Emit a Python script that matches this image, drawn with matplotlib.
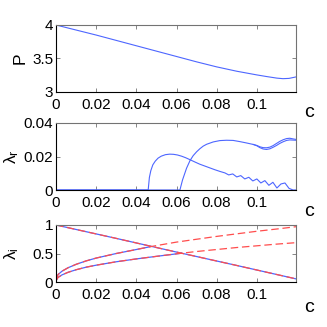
import matplotlib
matplotlib.use('Agg')
import matplotlib.pyplot as plt

plt.rcParams['font.family'] = ['Liberation Sans Narrow', 'Liberation Sans', 'DejaVu Sans']
plt.rcParams['mathtext.fontset'] = 'custom'
plt.rcParams['mathtext.rm'] = 'Liberation Sans'
plt.rcParams['mathtext.it'] = 'Liberation Sans'

# top panel: P(c)
c_P = [0, 0.01, 0.02, 0.03, 0.04, 0.05, 0.06, 0.07, 0.08, 0.09, 0.1, 0.105, 0.11, 0.113, 0.116, 0.1195]
P = [4.0, 3.925, 3.85, 3.77, 3.69, 3.61, 3.53, 3.45, 3.375, 3.31, 3.255, 3.23, 3.207, 3.199, 3.203, 3.225]

# middle panel: real parts
c_r1 = [0, 0.0459, 0.0465, 0.0472, 0.0482, 0.0494, 0.0508, 0.0524, 0.0545, 0.0566, 0.0585,
        0.0605, 0.0625, 0.0645, 0.0667, 0.0692, 0.0716, 0.0741, 0.0766, 0.0791, 0.0816, 0.0841,
        0.086, 0.088, 0.090, 0.092, 0.094, 0.096, 0.098, 0.100, 0.102, 0.104, 0.106,
        0.108, 0.110, 0.112, 0.114, 0.116, 0.118, 0.1195]
lam_r1 = [0, 0, 0.0075, 0.0115, 0.015, 0.0172, 0.019, 0.0202, 0.0211, 0.0214, 0.0213,
          0.0209, 0.0202, 0.0193, 0.0181, 0.0167, 0.0154, 0.0143, 0.0132, 0.0121, 0.0111, 0.0102,
          0.0090, 0.0096, 0.0078, 0.0086, 0.0066, 0.0076, 0.0054, 0.0066, 0.0042, 0.0056, 0.0028,
          0.0046, 0.0012, 0.0036, 0.0042, 0.0010, 0.0, 0.0]

c_r2 = [0, 0.0617, 0.0630, 0.0650, 0.0667, 0.0683, 0.0700, 0.0716, 0.0733, 0.0750, 0.0783,
        0.0816, 0.0849, 0.0882, 0.0915, 0.0948, 0.0982, 0.1000, 0.1015, 0.1031, 0.1048,
        0.1065, 0.1081, 0.1098, 0.1114, 0.1131, 0.1148, 0.1164, 0.1181, 0.1195]
lam_r2 = [0, 0, 0.006, 0.013, 0.0175, 0.0205, 0.0228, 0.0246, 0.0262, 0.0273, 0.0287,
          0.0295, 0.0297, 0.0296, 0.0289, 0.0281, 0.0272, 0.0266, 0.0258, 0.0253, 0.0252,
          0.0256, 0.0265, 0.0278, 0.0290, 0.0300, 0.0307, 0.0309, 0.0305, 0.0302]

c_r3 = [0.0982, 0.1000, 0.1015, 0.1031, 0.1048, 0.1065, 0.1081, 0.1098, 0.1114, 0.1131,
        0.1148, 0.1164, 0.1181, 0.1195]
lam_r3 = [0.0272, 0.0264, 0.0253, 0.0245, 0.0242, 0.0246, 0.0255, 0.0266, 0.0278, 0.0288,
          0.0296, 0.0299, 0.0298, 0.0297]

# bottom panel: imaginary parts
c_down = [0, 0.03, 0.06, 0.09, 0.1195]
lam_down = [1.0, 0.765, 0.525, 0.29, 0.055]

c_up = [0, 0.001, 0.003, 0.006, 0.01, 0.015, 0.02, 0.03, 0.04, 0.047, 0.06, 0.07, 0.08,
        0.09, 0.1, 0.11, 0.1195]
lam_up = [0.04, 0.13, 0.19, 0.25, 0.31, 0.37, 0.42, 0.5, 0.57, 0.62, 0.70, 0.75, 0.80,
          0.845, 0.89, 0.93, 0.97]

c_lo = [0, 0.001, 0.003, 0.006, 0.01, 0.015, 0.02, 0.03, 0.04, 0.05, 0.0625, 0.07, 0.08,
        0.09, 0.1, 0.11, 0.1195]
lam_lo = [0.02, 0.08, 0.125, 0.17, 0.215, 0.26, 0.295, 0.355, 0.405, 0.45, 0.505, 0.535,
          0.57, 0.605, 0.635, 0.665, 0.69]

n_up_blue = 10   # blue part ends at the collision c ~ 0.047
n_lo_blue = 11   # and c ~ 0.0625

xticks = [0, 0.02, 0.04, 0.06, 0.08, 0.1]
xticklabels = ['0', '0.02', '0.04', '0.06', '0.08', '0.1']

blue = (0.3, 0.4, 1.0)
red = (1.0, 0.3, 0.3)
W = 327.0

fig = plt.figure(figsize=(3.27, 3.27), dpi=100)
ax1 = fig.add_axes([56 / W, 1 - 92 / W, 240 / W, 67 / W])
ax2 = fig.add_axes([56 / W, 1 - 190 / W, 240 / W, 67 / W])
ax3 = fig.add_axes([56 / W, 1 - 282 / W, 240 / W, 57 / W])


def style(ax, ylim, yticks, yticklabels, ylabel, labx, c_off):
    ax.set_xlim(0, 0.1195)
    ax.set_ylim(*ylim)
    ax.set_xticks(xticks)
    ax.set_xticklabels(xticklabels)
    ax.set_yticks(yticks)
    ax.set_yticklabels(yticklabels)
    ax.tick_params(direction='in', length=3, width=0.6, color='0.45',
                   top=True, right=True, labelsize=11, pad=2)
    ax.tick_params(axis='x', pad=4)
    for s in ['top', 'right']:
        ax.spines[s].set_color('0.45')
    for s in ['left', 'bottom']:
        ax.spines[s].set_color('black')
    for s in ax.spines.values():
        s.set_linewidth(0.8)
    ax.set_ylabel(ylabel, fontsize=12.5)
    ax.yaxis.set_label_coords(labx, 0.5)
    ax.annotate('c', xy=(1, 0), xycoords='axes fraction', xytext=(13, -c_off),
                textcoords='offset pixels', ha='center', va='center', fontsize=14)


ax1.plot(c_P, P, color=blue, lw=0.8)
style(ax1, (3, 4), [3, 3.5, 4], ['3', '3.5', '4'], 'P', -0.12, 21)

ax2.plot(c_r1, lam_r1, color=blue, lw=0.8)
ax2.plot(c_r2, lam_r2, color=blue, lw=0.8)
ax2.plot(c_r3, lam_r3, color=blue, lw=0.8)
style(ax2, (0, 0.04), [0, 0.02, 0.04], ['0', '0.02', '0.04'], r'$\lambda_\mathrm{r}$', -0.145, 21)

ax3.plot(c_down, lam_down, color=blue, lw=0.9)
ax3.plot(c_up[:n_up_blue], lam_up[:n_up_blue], color=blue, lw=0.9)
ax3.plot(c_lo[:n_lo_blue], lam_lo[:n_lo_blue], color=blue, lw=0.9)
for cc, vv in [(c_down, lam_down), (c_up, lam_up), (c_lo, lam_lo)]:
    ax3.plot(cc, vv, color=red, lw=0.9, ls=(0, (6, 3)))
style(ax3, (0, 1), [0, 0.5, 1], ['0', '0.5', '1'], r'$\lambda_\mathrm{i}$', -0.145, 25)

fig.savefig('out.png', dpi=100)
